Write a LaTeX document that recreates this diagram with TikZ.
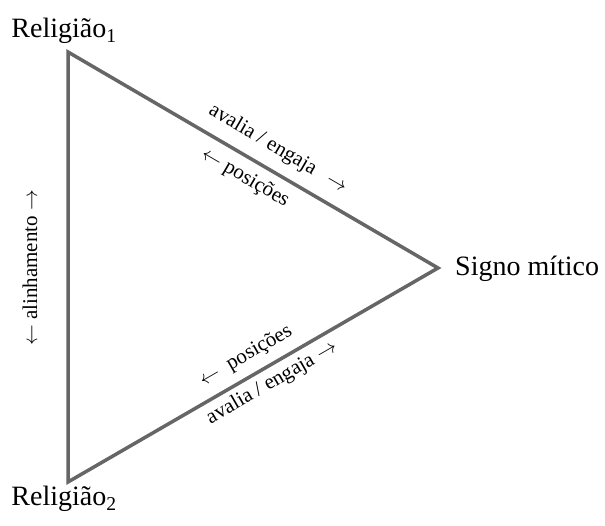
\documentclass[tikz,border=0pt]{standalone}
\usepackage{fontspec}
\setmainfont{Liberation Serif}
\newcommand{\ra}{\ensuremath{\rightarrow}}
\newcommand{\la}{\ensuremath{\leftarrow}}
\begin{document}
\begin{tikzpicture}[x=1pt,y=1pt,
  edge/.style={draw=black!60, line width=3.5pt, line join=miter},
  big/.style={font=\fontsize{28}{30}\selectfont, inner sep=0pt},
  lab/.style={font=\fontsize{21}{23}\selectfont, inner sep=0pt}]
\useasboundingbox (0,0) rectangle (605,525);
\coordinate (r1) at (68,473);
\coordinate (sm) at (438,257);
\coordinate (r2) at (68,43);
\draw[edge] (r1) -- (sm) -- (r2) -- cycle;
\node[big] (t1) at (64,494) {Religião\textsubscript{1}};
\node[big] (t2) at (64,26) {Religião\textsubscript{2}};
\node[big, anchor=west] (t3) at (455,256) {Signo mítico};
\node[lab, rotate=-30.3] (a1) at (278,376) {avalia / engaja\hspace{0.7em}\ra};
\node[lab, rotate=-30.3] (p1) at (245,347) {\la\ posições};
\node[lab, rotate=30.0] (p2) at (246,169) {\la\ \ posições};
\node[lab, rotate=30.0] (a2) at (272,142) {avalia / engaja \ra};
\node[lab, rotate=90] (al) at (30,257) {\la\ alinhamento \ra};
\end{tikzpicture}
\end{document}
